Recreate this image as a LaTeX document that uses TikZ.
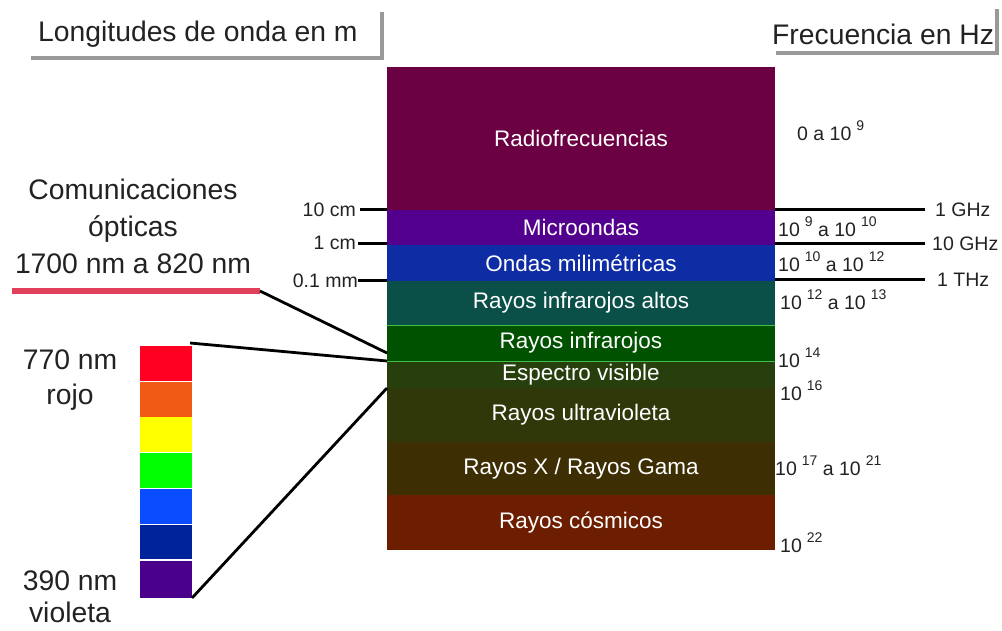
\documentclass[tikz,border=0pt]{standalone}
\usepackage{fontspec}
\setmainfont{Liberation Sans}
\definecolor{cradio}{HTML}{6B0042}
\definecolor{cmicro}{HTML}{54008E}
\definecolor{cmilli}{HTML}{0E2DA5}
\definecolor{cirhigh}{HTML}{0A4F48}
\definecolor{cir}{HTML}{005200}
\definecolor{cvis}{HTML}{263F0C}
\definecolor{cuv}{HTML}{303708}
\definecolor{cxray}{HTML}{3E2E04}
\definecolor{ccosmic}{HTML}{6E1E00}
\definecolor{cpink}{HTML}{E0405A}
\definecolor{sred}{HTML}{FF0022}
\definecolor{sorange}{HTML}{F05A14}
\definecolor{syellow}{HTML}{FFFF00}
\definecolor{sgreen}{HTML}{00FF00}
\definecolor{sblue}{HTML}{0A4CFF}
\definecolor{sdblue}{HTML}{00229A}
\definecolor{sviolet}{HTML}{4B008C}
\definecolor{irline}{HTML}{40C040}
\definecolor{txt}{HTML}{222222}
\newcommand{\myexp}[1]{\hspace{5pt}\raisebox{0.5em}{\fontsize{14}{14}\selectfont #1}}
\tikzset{
  band/.style={minimum width=388pt, inner sep=0pt, outer sep=0pt, text=white, font=\fontsize{22.5}{26}\selectfont, anchor=north west},
  big/.style={font=\fontsize{28.3}{34}\selectfont, text=txt, inner sep=0pt},
  small/.style={font=\fontsize{19.5}{22}\selectfont, text=txt, inner sep=0pt},
  tick/.style={line width=3pt, black},
  conn/.style={line width=2.8pt, black},
  hdr/.style={line width=3.5pt, gray!80},
  sw/.style={minimum width=52pt, inner sep=0pt, outer sep=0pt, anchor=north west}
}
\begin{document}
\begin{tikzpicture}[x=1pt,y=-1pt]
\useasboundingbox (0,0) rectangle (1002,631);
% headers
\node[big, anchor=west] (hl) at (38,34) {Longitudes de onda en m};
\draw[hdr] (31,58) -- (382,58) -- (382,12);
\node[big, anchor=west] (hr) at (772,34) {Frecuencia en Hz};
\draw[hdr] (776,53) -- (997,53) -- (997,9);
% bands
\node[band, fill=cradio, minimum height=143pt] (radio) at (387,67) {Radiofrecuencias};
\node[band, fill=cmicro, minimum height=35pt] (micro) at (387,210) {Microondas};
\node[band, fill=cmilli, minimum height=36pt] (milli) at (387,245) {Ondas milimétricas};
\node[band, fill=cirhigh, minimum height=44pt] (irhigh) at (387,281) {Rayos infrarojos altos};
\node[band, fill=cir, minimum height=36pt] (ir) at (387,325) {Rayos infrarojos};
\node[band, fill=cvis, minimum height=27pt] (vis) at (387,361) {Espectro visible};
\node[band, fill=cuv, minimum height=54pt] (uv) at (387,388) {Rayos ultravioleta};
\node[band, fill=cxray, minimum height=53pt] (xray) at (387,442) {Rayos X / Rayos Gama};
\node[band, fill=ccosmic, minimum height=55pt] (cosmic) at (387,495) {Rayos cósmicos};
\draw[irline, line width=1pt] (ir.north west) -- (ir.north east);
\draw[irline, line width=1pt] (ir.south west) -- (ir.south east);
% left ticks
\node[small, anchor=east] (l1) at (356,210) {10 cm};
\node[small, anchor=east] (l2) at (356,243) {1 cm};
\node[small, anchor=east] (l3) at (358,281) {0.1 mm};
\coordinate (t1) at (360,210); \coordinate (t2) at (358,244); \coordinate (t3) at (358,281);
\draw[tick] (t1) -- (t1 -| radio.west);
\draw[tick] (t2) -- (t2 -| radio.west);
\draw[tick] (t3) -- (t3 -| radio.west);
% right ticks
\coordinate (r1) at (925,210); \coordinate (r2) at (925,244); \coordinate (r3) at (925,280);
\draw[tick] (r1 -| radio.east) -- (r1);
\draw[tick] (r2 -| radio.east) -- (r2);
\draw[tick] (r3 -| radio.east) -- (r3);
\node[small, anchor=west] (f1) at (935,210) {1 GHz};
\node[small, anchor=west] (f2) at (932,244) {10 GHz};
\node[small, anchor=west] (f3) at (937,280) {1 THz};
% frequency ranges
\node[small, anchor=west] (q0) at (797,131) {0 a 10\myexp{9}};
\node[small, anchor=west] (q1) at (778,227) {10\myexp{9} a 10\myexp{10}};
\node[small, anchor=west] (q2) at (778,262) {10\myexp{10} a 10\myexp{12}};
\node[small, anchor=west] (q3) at (780,300) {10\myexp{12} a 10\myexp{13}};
\node[small, anchor=west] (q4) at (778,358) {10\myexp{14}};
\node[small, anchor=west] (q5) at (780,391) {10\myexp{16}};
\node[small, anchor=west] (q6) at (775,466) {10\myexp{17} a 10\myexp{21}};
\node[small, anchor=west] (q7) at (780,543) {10\myexp{22}};
% optical communications
\node[big, align=center] (com) at (133,226) {Comunicaciones\\[3pt]ópticas\\[3pt]1700 nm a 820 nm};
\coordinate (pa) at (12,291); \coordinate (pb) at (260,291);
\draw[cpink, line width=6pt] (pa) -- (pb);
\coordinate (ira) at (387,353);
\draw[conn] (pb) -- (ira);
% visible spectrum swatches
\node[sw, fill=sred, minimum height=35pt] (s1) at (140,346) {};
\node[sw, fill=sorange, minimum height=35pt] (s2) at (140,382) {};
\node[sw, fill=syellow, minimum height=35pt] (s3) at (140,417) {};
\node[sw, fill=sgreen, minimum height=35pt] (s4) at (140,453) {};
\node[sw, fill=sblue, minimum height=35pt] (s5) at (140,489) {};
\node[sw, fill=sdblue, minimum height=34pt] (s6) at (140,525) {};
\node[sw, fill=sviolet, minimum height=37pt] (s7) at (140,561) {};
\coordinate (sa) at (190,343);
\draw[conn] (sa) -- (vis.north west);
\draw[conn] (s7.south east) -- (vis.south west);
\node[big, align=center] (red) at (70,380) {770 nm\\[1pt]rojo};
\node[big, align=center, font=\fontsize{28.3}{32}\selectfont] (vio) at (70,597) {390 nm\\violeta};
\end{tikzpicture}
\end{document}
